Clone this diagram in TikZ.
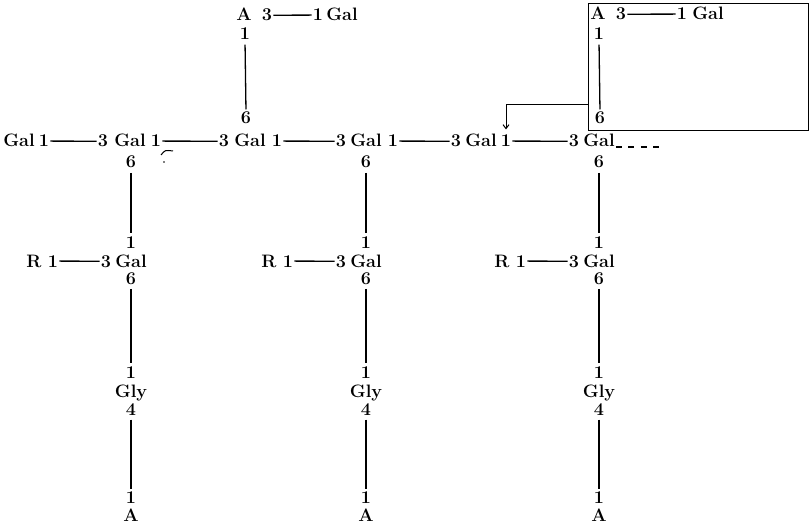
\documentclass[tikz,border=0pt]{standalone}
\usetikzlibrary{arrows.meta}
\begin{document}
\begin{tikzpicture}[x=1pt,y=-1pt,
  word/.style={font=\fontsize{18}{18}\selectfont\bfseries, anchor=base, inner xsep=1pt, inner ysep=0.5pt},
  num/.style={font=\fontsize{18}{18}\selectfont\bfseries, anchor=base, inner xsep=1.2pt, inner ysep=0.5pt},
  bond/.style={line width=1.3pt},
  vbond/.style={line width=1.3pt, shorten <=4pt, shorten >=2pt},
  frame/.style={draw, line width=0.9pt, inner sep=0pt},
  arr/.style={line width=1pt, -{Straight Barb[length=4pt,width=6pt,line width=1pt]}}]
\useasboundingbox (0,0) rectangle (812,524);

% top-left branch
\node[word] (tA) at (244,21) {A};
\node[num] (t3) at (267,21) {3};
\node[num] (t1) at (318,21) {1};
\node[word] (tG) at (342,21) {Gal};
\node[num] (t1b) at (245,40) {1};
\node[num] (t6) at (246,124) {6};
\draw[bond] (t3.east) -- (t1.west);
\draw[vbond] (t1b.south) -- (t6.north);

% boxed repeating unit
\node[frame, minimum width=220pt, minimum height=127pt] (box) at (698,66.5) {};
\node[word] (bA) at (598,20) {A};
\node[num] (b3) at (621,20) {3};
\node[num] (b1) at (682,20) {1};
\node[word] (bG) at (708,20) {Gal};
\node[num] (b1b) at (599,40) {1};
\node[num] (b6) at (600,124) {6};
\draw[bond] (b3.east) -- (b1.west);
\draw[vbond] (b1b.south) -- (b6.north);

% main chain
\node[word] (m1) at (19,147) {Gal};
\node[num] (m1a) at (44,147) {1};
\node[num] (m2b) at (103,147) {3};
\node[word] (m2) at (130,147) {Gal};
\node[num] (m2a) at (156,147) {1};
\node[num] (m3b) at (224,147) {3};
\node[word] (m3) at (250,147) {Gal};
\node[num] (m3a) at (277,147) {1};
\node[num] (m4b) at (341,147) {3};
\node[word] (m4) at (366,147) {Gal};
\node[num] (m4a) at (393,147) {1};
\node[num] (m5b) at (456,147) {3};
\node[word] (m5) at (481,147) {Gal};
\node[num] (m5a) at (506,147) {1};
\node[num] (m6b) at (574,147) {3};
\node[word] (m6) at (599,147) {Gal};
\draw[bond] (m1a.east) -- (m2b.west);
\draw[bond] (m2a.east) -- (m3b.west);
\draw[bond] (m3a.east) -- (m4b.west);
\draw[bond] (m4a.east) -- (m5b.west);
\draw[bond] (m5a.east) -- (m6b.west);
\draw[line width=1.1pt, dash pattern=on 6pt off 6.5pt] (m6.base east) -- ++(45,0) coordinate (dashend);

% arrow from box to chain
\path (box.south west) ++(0,-26) coordinate (arrstart);
\draw[arr] (arrstart) -| ([yshift=5pt]m5a.north);

% scan mark
\draw[line width=1pt] (161,155) .. controls (165,150) .. (173,151);
\fill (164,162) circle (0.8pt);

% side branches
\foreach \c [count=\k] in {131,366,599} {
  \node[num] (s6-\k) at (\c,168) {6};
  \node[num] (s1-\k) at (\c,248) {1};
  \node[word] (rR-\k) at (\c-97,267) {R};
  \node[num] (r1-\k) at (\c-78,267) {1};
  \node[num] (r3-\k) at (\c-25,267) {3};
  \node[word] (rG-\k) at (\c,267) {Gal};
  \node[num] (r6-\k) at (\c,284) {6};
  \node[num] (y1-\k) at (\c,378) {1};
  \node[word] (yG-\k) at (\c,397) {Gly};
  \node[num] (y4-\k) at (\c,415) {4};
  \node[num] (a1-\k) at (\c,503.5) {1};
  \node[word] (aA-\k) at (\c,521.5) {A};
  \draw[vbond] (s6-\k.south) -- (s1-\k.north);
  \draw[bond] (r1-\k.east) -- (r3-\k.west);
  \draw[vbond] (r6-\k.south) -- (y1-\k.north);
  \draw[vbond] (y4-\k.south) -- (a1-\k.north);
}
\end{tikzpicture}
\end{document}
